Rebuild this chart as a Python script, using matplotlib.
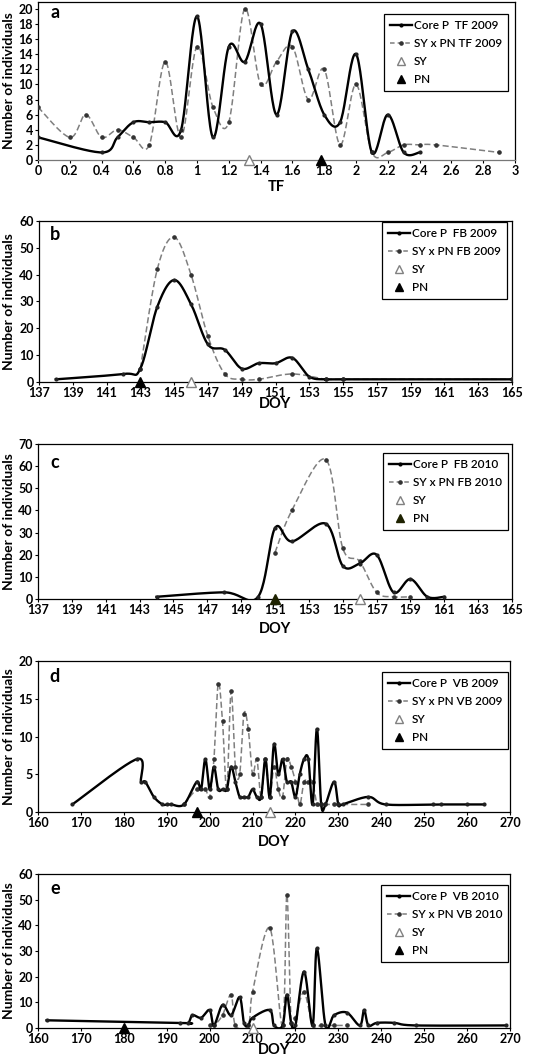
import numpy as np
import matplotlib
matplotlib.use("Agg")
import matplotlib.pyplot as plt
from matplotlib.lines import Line2D

plt.rcParams['font.family'] = ['Lato', 'DejaVu Sans']

# ---- panel a : TF 2009
a_core_x = [0, 0.4, 0.5, 0.6, 0.7, 0.8, 0.9, 1.0, 1.1, 1.2, 1.3, 1.4, 1.5, 1.6, 1.7, 1.8, 1.9, 2.0, 2.1, 2.2, 2.3, 2.4]
a_core_y = [3, 1, 3, 5, 5, 5, 4, 19, 3, 15, 13, 18, 6, 17, 12, 6, 5, 14, 1, 6, 1, 1]
a_hyb_x = [0, 0.2, 0.3, 0.4, 0.5, 0.6, 0.7, 0.8, 0.9, 1.0, 1.1, 1.2, 1.3, 1.4, 1.5, 1.6, 1.7, 1.8, 1.9, 2.0, 2.1, 2.2, 2.3, 2.4, 2.5, 2.9]
a_hyb_y = [7, 3, 6, 3, 4, 3, 2, 13, 3, 15, 7, 5, 20, 10, 13, 15, 8, 12, 2, 10, 1, 1, 2, 2, 2, 1]
a_sy, a_pn = 1.33, 1.78

# ---- panel b : FB 2009
b_core_x = [138, 142, 143, 144, 145, 146, 147, 148, 149, 150, 151, 152, 153, 154, 155, 165]
b_core_y = [1, 3, 5, 28, 38, 29, 14, 12, 5, 7, 7, 9, 2, 1, 1, 1]
b_hyb_x = [143, 144, 145, 146, 147, 148, 149, 150, 152, 154, 155, 165]
b_hyb_y = [5, 42, 54, 40, 17, 3, 1, 1, 3, 1, 1, 1]
b_sy, b_pn = 146, 143

# ---- panel c : FB 2010
c_core_x = [144, 148, 150, 151, 152, 154, 155, 156, 157, 158, 159, 160, 161]
c_core_y = [1, 3, 1, 32, 26, 34, 15, 16, 20, 3, 9, 1, 1]
c_hyb_x = [151, 152, 154, 155, 156, 157, 158, 159]
c_hyb_y = [21, 40, 63, 23, 17, 3, 1, 1]
c_sy, c_pn = 156, 151

# ---- panel d : VB 2009
d_core_x = [168, 183, 184, 185, 187, 189, 190, 191, 194, 197, 198, 199, 200, 201, 202, 203, 204, 205, 206,
            207, 208, 209, 210, 211, 212, 213, 214, 215, 216, 217, 218, 219, 220, 221, 222, 223, 224, 225,
            226, 227, 229, 230, 231, 237, 241, 252, 254, 260, 264]
d_core_y = [1, 7, 4, 4, 2, 1, 1, 1, 1, 4, 3, 7, 3, 6, 3, 3, 3, 6, 4,
            2, 2, 2, 3, 2, 2, 7, 2, 9, 5, 7, 4, 4, 2, 5, 7, 7, 1, 11,
            1, 1, 4, 1, 1, 2, 1, 1, 1, 1, 1]
d_hyb_x = [194, 197, 199, 200, 201, 202, 203, 204, 205, 206, 207, 208, 209, 210, 211, 212, 213, 214, 215,
           216, 217, 218, 219, 220, 221, 222, 223, 224, 225, 226, 227, 229, 230, 237]
d_hyb_y = [1, 3, 3, 2, 7, 17, 12, 3, 16, 6, 5, 13, 11, 5, 7, 2, 7, 2, 6,
           3, 2, 7, 6, 4, 1, 4, 4, 4, 1, 1, 1, 1, 1, 1]
d_sy, d_pn = 214, 197

# ---- panel e : VB 2010
e_core_x = [162, 193, 195, 196, 198, 200, 201, 203, 205, 207, 208, 209, 210, 214, 215, 217, 218, 219, 220,
            222, 224, 225, 227, 229, 232, 235, 236, 237, 239, 243, 248, 269]
e_core_y = [3, 2, 2, 5, 4, 7, 1, 9, 5, 12, 2, 1, 4, 7, 1, 1, 13, 2, 1,
            22, 1, 31, 1, 5, 6, 1, 7, 1, 2, 2, 1, 1]
e_hyb_x = [200, 201, 203, 205, 206, 209, 210, 214, 217, 218, 219, 220, 222, 224, 226, 229, 232]
e_hyb_y = [1, 1, 5, 13, 1, 1, 14, 39, 1, 52, 2, 4, 14, 1, 1, 1, 1]
e_sy, e_pn = 210, 180


def smooth(x, y, n=24):
    # Excel-style smoothed line: cubic Bezier through the points
    p = np.column_stack([x, y]).astype(float)
    if len(p) < 3:
        return p[:, 0], p[:, 1]
    ext = np.vstack([p[0], p, p[-1]])
    t = np.linspace(0, 1, n)[:, None]
    out = []
    for i in range(1, len(ext) - 2):
        p0, p1, p2, p3 = ext[i - 1], ext[i], ext[i + 1], ext[i + 2]
        c1 = p1 + (p2 - p0) / 6.0
        c2 = p2 - (p3 - p1) / 6.0
        seg = (1 - t) ** 3 * p1 + 3 * (1 - t) ** 2 * t * c1 + 3 * (1 - t) * t ** 2 * c2 + t ** 3 * p2
        out.append(seg if i == 1 else seg[1:])
    out = np.vstack(out)
    return out[:, 0], out[:, 1]


W, H = 540, 1063
fig = plt.figure(figsize=(W / 100, H / 100), dpi=100)

panels = [
    # letter, core, hyb, sy, pn, xlabel, tag, xlim, xstep, ylim, ystep, ymax tick,
    # axes box px (l, t, r, b), legend corner px (r, t), xlabel centre px y, letter centre px y
    ('a', (a_core_x, a_core_y), (a_hyb_x, a_hyb_y), a_sy, a_pn, 'TF', 'TF 2009', (0, 3), 0.2, (0, 20.9), 2, 20,
     (38, 2, 515, 160), (508, 14), 187, 13),
    ('b', (b_core_x, b_core_y), (b_hyb_x, b_hyb_y), b_sy, b_pn, 'DOY', 'FB 2009', (137, 165), 2, (0, 60), 10, 60,
     (39, 221, 512, 382), (507, 222), 404, 235),
    ('c', (c_core_x, c_core_y), (c_hyb_x, c_hyb_y), c_sy, c_pn, 'DOY', 'FB 2010', (137, 165), 2, (0, 70), 10, 70,
     (38, 444, 512, 599), (508, 453), 629, 462),
    ('d', (d_core_x, d_core_y), (d_hyb_x, d_hyb_y), d_sy, d_pn, 'DOY', 'VB 2009', (160, 270), 10, (0, 20), 5, 20,
     (38, 661, 510, 812), (508, 672), 842, 677),
    ('e', (e_core_x, e_core_y), (e_hyb_x, e_hyb_y), e_sy, e_pn, 'DOY', 'VB 2010', (160, 270), 10, (0, 60), 10, 60,
     (38, 874, 510, 1028), (508, 885), 1050, 888),
]

for (letter, core, hyb, sy, pn, xlab, tag, xlim, xstep, ylim, ystep, ymax_tick,
     box, leg, xlab_py, let_py) in panels:
    l, t, r, b = box
    ax = fig.add_axes([l / W, (H - b) / H, (r - l) / W, (b - t) / H])

    hx, hy = smooth(*hyb)
    ax.plot(hx, hy, color='#7f7f7f', lw=1.1, dashes=(4, 2), zorder=2)
    ax.plot(hyb[0], hyb[1], ls='none', marker='o', ms=2.3, color='#333333', zorder=3)
    cx, cy = smooth(*core)
    ax.plot(cx, cy, color='black', lw=1.7, zorder=4)
    ax.plot(core[0], core[1], ls='none', marker='o', ms=2.0, color='#222222', zorder=5)

    pn_col = '#1e2200' if letter == 'c' else 'black'
    ax.plot([sy], [0], ls='none', marker='^', ms=7, mfc='white', mec='#808080', mew=1.0,
            clip_on=False, zorder=6)
    ax.plot([pn], [0], ls='none', marker='^', ms=7, mfc=pn_col, mec=pn_col, clip_on=False, zorder=6)

    ax.set_xlim(*xlim)
    ax.set_ylim(*ylim)
    xt = np.arange(xlim[0], xlim[1] + xstep / 2, xstep)
    ax.set_xticks(xt)
    ax.set_xticklabels([f'{v:g}' for v in np.round(xt, 2)])
    yt = np.arange(0, ymax_tick + 1, ystep)
    ax.set_yticks(yt)
    ax.tick_params(direction='out', length=2.5, width=0.8, labelsize=9, pad=1.2)
    for lbl in ax.get_xticklabels() + ax.get_yticklabels():
        lbl.set_fontweight('bold')
    for s in ax.spines.values():
        s.set_linewidth(0.9)
    if letter == 'a':
        ax.spines['bottom'].set_color('#777777')

    # axis titles and panel letter, placed at pixel centres
    fig.text((l + r) / 2 / W, (H - xlab_py) / H, xlab, fontsize=10.5, fontweight='bold',
             ha='center', va='center')
    fig.text(9 / W, (H - (t + b) / 2) / H, 'Number of individuals', fontsize=10,
             fontweight='bold', rotation=90, ha='center', va='center')
    fig.text(55 / W, (H - let_py) / H, letter, fontsize=13, fontweight='bold',
             ha='center', va='center')

    handles = [
        Line2D([], [], color='black', lw=1.7, marker='o', ms=2, markevery=[1]),
        Line2D([], [], color='#7f7f7f', lw=1.1, dashes=(3, 2), marker='o', ms=2.3,
               mfc='#333333', mec='#333333', markevery=[1]),
        Line2D([], [], ls='none', marker='^', ms=6, mfc='white', mec='#808080'),
        Line2D([], [], ls='none', marker='^', ms=6, mfc=pn_col, mec=pn_col),
    ]
    labels = ['Core P  ' + tag, 'SY x PN ' + tag, 'SY', 'PN']
    lg = ax.legend(handles, labels, loc='upper right',
                   bbox_to_anchor=(leg[0] / W, (H - leg[1]) / H),
                   bbox_transform=fig.transFigure, fancybox=False, framealpha=1,
                   edgecolor='black', fontsize=8.5, handlelength=1.9, handletextpad=0.15,
                   labelspacing=0.6, borderpad=0.5, borderaxespad=0)
    lg.get_frame().set_linewidth(0.9)
    for txt in lg.get_texts():
        txt.set_fontweight('semibold')

fig.savefig('out.png', dpi=100)
